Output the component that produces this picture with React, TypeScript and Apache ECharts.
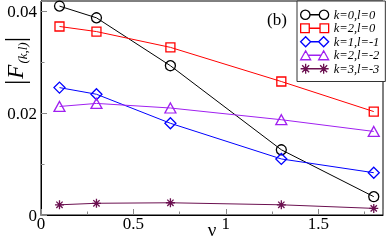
import React, { useEffect, useRef } from "react";
import * as echarts from "echarts";

const nuValues = [0.1, 0.3, 0.7, 1.3, 1.8];
const seriesNames = ["k=0,l=0", "k=2,l=0", "k=1,l=-1", "k=2,l=-2", "k=3,l=-3"];
const k0l0 = [0.041, 0.0387, 0.0293, 0.0128, 0.0036];
const k2l0 = [0.037, 0.036, 0.0329, 0.0262, 0.0203];
const k1lm1 = [0.025, 0.0237, 0.018, 0.011, 0.0083];
const k2lm2 = [0.0213, 0.0219, 0.021, 0.0187, 0.0164];
const k3lm3 = [0.002, 0.0023, 0.0024, 0.002, 0.0013];
const xTicks = { min: 0, max: 1.85, interval: 0.5 };
const yTicks = { min: 0, max: 0.042, interval: 0.02 };

const SERIF = '"Liberation Serif", "DejaVu Serif", "Times New Roman", serif';
const colors = ["#000000", "#ff0000", "#0000ff", "#a020f0", "#6b1050"];
const STAR = "path://M5,0L5,10M0,5L10,5M1.5,1.5L8.5,8.5M1.5,8.5L8.5,1.5";
const symbols: any[] = ["circle", "rect", "diamond", "triangle", STAR];
const symbolSizes: any[] = [10, 9, 11, [11, 10], 9];
const legendIcons = [
  "path://M0.5,5A4.5,4.5,0,1,1,9.5,5A4.5,4.5,0,1,1,0.5,5ZM9.5,5L18.5,5M18.5,5A4.5,4.5,0,1,1,27.5,5A4.5,4.5,0,1,1,18.5,5Z",
  "path://M1,1L9,1L9,9L1,9ZM9,5L19,5M19,1L27,1L27,9L19,9Z",
  "path://M0,5L5,0L10,5L5,10ZM10,5L18,5M18,5L23,0L28,5L23,10Z",
  "path://M0,9.5L5,0.5L10,9.5ZM7.5,5L20.5,5M18,9.5L23,0.5L28,9.5Z",
  "path://M5,0L5,10M0,5L10,5M1.5,1.5L8.5,8.5M1.5,8.5L8.5,1.5M5,5L23,5M23,0L23,10M18,5L28,5M19.5,1.5L26.5,8.5M19.5,8.5L26.5,1.5",
];

export default function App() {
  const ref = useRef<HTMLDivElement>(null);
  useEffect(() => {
    if (!ref.current) return;
    const chart = echarts.init(ref.current, null, { renderer: "svg" });
    const allData = [k0l0, k2l0, k1lm1, k2lm2, k3lm3];
    const series = allData.map((vals, i) => ({
      name: seriesNames[i],
      type: "line",
      data: nuValues.map((x, j) => [x, vals[j]]),
      symbol: symbols[i],
      symbolSize: symbolSizes[i],
      showAllSymbol: true,
      lineStyle: { color: colors[i], width: 1 },
      itemStyle: { color: "rgba(0,0,0,0)", borderColor: colors[i], borderWidth: 1.3 },
      emphasis: { disabled: true },
    }));
    const axisCommon = {
      axisLine: { show: true, onZero: false, lineStyle: { color: "#000", width: 1 } },
      axisTick: { show: true, inside: true, length: 6, lineStyle: { color: "#888" } },
      minorTick: { show: true, splitNumber: 2, length: 3.5, lineStyle: { color: "#888" } },
      splitLine: { show: false },
      minorSplitLine: { show: false },
    };
    chart.setOption({
      animation: false,
      grid: {
        left: 41, right: 4, top: 1, bottom: 25,
        outerBoundsMode: "none",
        containLabel: false,
        show: true, borderColor: "#000", borderWidth: 1, backgroundColor: "transparent",
      },
      xAxis: {
        type: "value",
        ...xTicks,
        ...axisCommon,
        axisLabel: { fontFamily: SERIF, fontSize: 17, color: "#000", margin: 0, showMaxLabel: false },
      },
      yAxis: {
        type: "value",
        ...yTicks,
        ...axisCommon,
        axisLabel: { fontFamily: SERIF, fontSize: 17, color: "#000", margin: 4, showMaxLabel: false },
      },
      legend: {
        orient: "vertical",
        left: 297,
        top: 1,
        padding: [7, 6, 6, 3],
        itemWidth: 28,
        itemHeight: 10,
        itemGap: 0,
        backgroundColor: "#fff",
        borderColor: "#333",
        borderWidth: 1,
        borderRadius: 0,
        selectedMode: false,
        textStyle: { fontFamily: SERIF, fontStyle: "italic", fontSize: 12.5, color: "#000", lineHeight: 13.5 },
        data: seriesNames.map((n, i) => ({
          name: n,
          icon: legendIcons[i],
          itemStyle: { color: "rgba(0,0,0,0)", borderColor: colors[i], borderWidth: 1.3 },
        })),
      },
      graphic: [
        {
          type: "text",
          x: 277,
          y: 19,
          style: { text: "(b)", fontFamily: SERIF, fontSize: 17, fill: "#000", align: "center", verticalAlign: "middle" },
        },
        {
          type: "text",
          x: 212,
          y: 229.5,
          style: { text: "ν", fontFamily: SERIF, fontSize: 19, fill: "#000", align: "center", verticalAlign: "middle" },
        },
        {
          type: "text",
          x: 15,
          y: 61,
          rotation: Math.PI / 2,
          style: {
            text: "{a||}{f|F}{s|(k,l)}{a||}",
            align: "center",
            verticalAlign: "middle",
            rich: {
              a: { fontFamily: SERIF, fontSize: 27, lineHeight: 28, fill: "#000", verticalAlign: "middle" },
              f: { fontFamily: SERIF, fontStyle: "italic", fontSize: 23, lineHeight: 24, fill: "#000", verticalAlign: "middle", padding: [0, 1, 0, 1] },
              s: { fontFamily: SERIF, fontStyle: "italic", fontSize: 13, lineHeight: 14, fill: "#000", verticalAlign: "bottom" },
            },
          },
        },
      ],
      series,
    });
    return () => chart.dispose();
  }, []);
  return <div ref={ref} style={{ position: "fixed", left: 0, top: 0, width: 387, height: 240 }} />;
}
